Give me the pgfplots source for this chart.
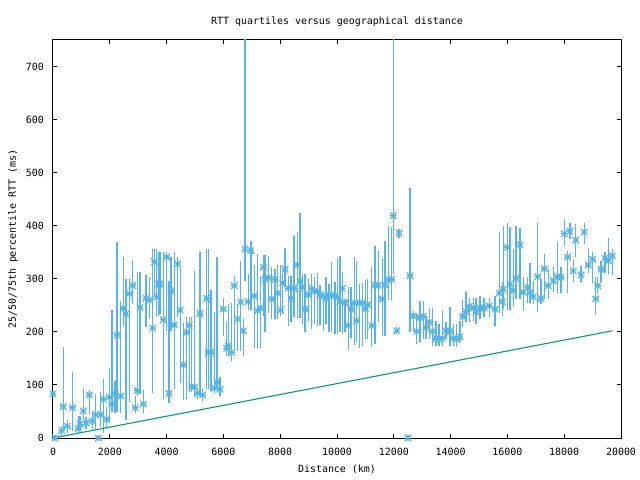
\documentclass[border=0pt]{standalone}
\usepackage{fontspec}
\setmainfont{DejaVu Sans Mono}
\usepackage{pgfplots}
\usepackage{pgfplotstable}
\pgfplotsset{compat=1.18}
\definecolor{gpblue}{RGB}{86,180,233}
\definecolor{gpgreen}{RGB}{0,158,115}

% gnuplot style "*" point: a plus and a cross on top of each other
\pgfdeclareplotmark{gpstar}{%
  \pgfpathmoveto{\pgfqpoint{-\pgfplotmarksize}{0pt}}%
  \pgfpathlineto{\pgfqpoint{\pgfplotmarksize}{0pt}}%
  \pgfpathmoveto{\pgfqpoint{0pt}{-\pgfplotmarksize}}%
  \pgfpathlineto{\pgfqpoint{0pt}{\pgfplotmarksize}}%
  \pgfpathmoveto{\pgfqpoint{-\pgfplotmarksize}{-\pgfplotmarksize}}%
  \pgfpathlineto{\pgfqpoint{\pgfplotmarksize}{\pgfplotmarksize}}%
  \pgfpathmoveto{\pgfqpoint{-\pgfplotmarksize}{\pgfplotmarksize}}%
  \pgfpathlineto{\pgfqpoint{\pgfplotmarksize}{-\pgfplotmarksize}}%
  \pgfusepathqstroke}

% distance (km), median, 25th and 75th percentile RTT (ms)
\pgfplotstableread{
x y lo hi
0 83 83 83
70 0 0 0
306 14 9 18
363 59 18 167
504 22 14 30
680 57 18 120
891 18 14 37
951 26 18 37
1067 51 40 90
1162 29 21 34
1278 81 49 86
1384 32 21 44
1503 44 21 78
1595 0 0 0
1680 44 25 82
1771 73 14 106
1891 35 25 53
1982 77 33 128
2077 64 53 237
2183 84 52 102
2253 194 53 364
2384 79 51 254
2475 244 216 337
2570 234 39 295
2687 272 73 295
2806 287 257 331
2898 57 52 75
2968 89 84 308
3063 246 87 308
3180 64 52 86
3275 263 214 303
3391 260 230 299
3510 207 89 351
3567 332 270 351
3651 266 235 352
3722 290 235 345
3767 290 238 346
3884 223 78 345
4003 341 207 345
4084 84 70 292
4155 277 207 337
4271 213 97 345
4391 328 232 337
4482 241 109 315
4588 138 77 212
4708 199 78 223
4799 212 92 223
4884 97 91 224
4975 96 84 310
5081 84 78 89
5176 235 84 346
5271 81 75 88
5412 263 97 352
5468 162 97 351
5563 162 94 275
5680 94 89 232
5774 105 97 337
5880 92 84 110
5996 243 196 260
6116 169 160 214
6172 174 160 248
6292 161 149 249
6384 287 169 301
6503 224 169 248
6609 256 169 329
6700 202 160 219
6760 356 300 900
6877 257 245 304
6972 353 246 367
7088 268 175 322
7208 240 175 342
7299 245 175 298
7405 322 235 340
7465 300 204 340
7581 302 241 339
7701 262 229 318
7817 299 229 314
7912 273 229 322
8017 241 235 322
8088 292 238 304
8169 318 290 353
8285 282 216 301
8380 263 224 301
8486 282 232 375
8602 326 230 383
8697 295 230 420
8778 284 219 304
8873 243 204 304
8989 270 226 295
9109 282 210 304
9200 277 219 298
9306 276 216 307
9401 270 217 284
9517 267 207 270
9612 263 219 298
9718 270 204 285
9813 268 204 327
9929 268 201 289
10024 265 201 334
10105 257 204 339
10186 282 201 309
10281 255 205 257
10398 212 171 280
10493 243 194 280
10609 254 180 337
10693 221 185 329
10785 255 175 285
10891 254 179 287
10996 243 191 293
11081 251 191 295
11222 212 177 318
11338 288 182 358
11454 288 224 348
11595 262 197 332
11690 288 197 367
11806 298 265 395
11926 299 265 392
11982 419 313 900
12102 202 200 204
12183 386 381 390
12500 0 0 0
12570 306 204 467
12686 230 204 235
12806 201 182 229
12922 227 186 254
13038 229 191 254
13133 208 191 226
13250 218 191 241
13370 201 179 241
13486 188 179 216
13591 186 179 210
13708 188 179 235
13838 202 191 213
13979 201 179 243
14095 188 179 211
14215 186 177 211
14331 191 185 215
14426 229 213 255
14542 238 223 270
14658 248 223 260
14799 245 226 260
14894 238 219 260
15035 245 229 263
15176 245 232 260
15362 249 232 260
15563 243 215 263
15714 273 241 383
15820 257 235 288
15855 280 248 395
15996 359 246 400
16091 290 245 392
16207 278 251 351
16302 301 266 395
16443 364 266 391
16559 275 245 298
16714 284 260 299
16795 274 260 326
16911 266 257 292
17066 304 243 401
17182 263 257 295
17298 319 266 342
17439 287 266 314
17616 296 279 317
17757 304 276 364
17887 303 278 317
18004 385 367 408
18123 341 278 348
18204 390 380 400
18320 315 298 330
18405 373 345 398
18591 307 298 320
18707 388 370 401
18848 326 315 354
19003 337 297 345
19109 262 236 298
19179 287 276 298
19295 318 298 329
19436 339 315 345
19552 334 314 373
19693 343 312 351
}\rtt

\begin{document}
\begin{tikzpicture}
\begin{axis}[
    width=568bp, height=398bp, scale only axis,
    xmin=0, xmax=20000, ymin=0, ymax=750,
    xtick={0,2000,...,20000}, ytick={0,100,...,700},
    scaled x ticks=false,
    tick pos=both, tick align=inside, major tick length=4bp,
    axis line style={line width=1bp},
    tick style={black, line width=1bp},
    font=\fontsize{10}{12}\selectfont,
    /pgf/number format/assume math mode=true,
    /pgf/number format/1000 sep={},
    xticklabel style={anchor=center, yshift=-14bp},
    yticklabel style={anchor=east, inner sep=0pt, xshift=-9bp},
    title={RTT quartiles versus geographical distance},
    title style={at={(axis description cs:0.5,1)}, anchor=center, yshift=12bp},
    xlabel={Distance (km)},
    xlabel style={at={([yshift=-31bp]axis description cs:0.5,0)}, anchor=center},
    ylabel={25/50/75th percentile RTT (ms)},
    ylabel style={at={([xshift=-40bp]axis description cs:0,0.5)}, anchor=center},
]
\addplot[gpblue, only marks, mark=gpstar, mark size=3.2bp, line width=1.1bp,
    error bars/.cd, y dir=both, y explicit,
    error bar style={gpblue, line width=1.2bp},
    error mark options={gpblue, mark size=2.5bp, line width=1.2bp}]
    table[x=x, y=y,
          y error plus expr=\thisrow{hi}-\thisrow{y},
          y error minus expr=\thisrow{y}-\thisrow{lo}] {\rtt};
\addplot[gpgreen, line width=1.1bp, no marks] coordinates {
    (0,0) (4000,41) (8000,82) (12000,123) (16000,164) (19700,202)
};
\end{axis}
\pgfresetboundingbox
\path ([shift={(-53bp,-42bp)}]current axis.south west) rectangle ([shift={(19bp,40bp)}]current axis.north east);
\end{tikzpicture}
\end{document}
